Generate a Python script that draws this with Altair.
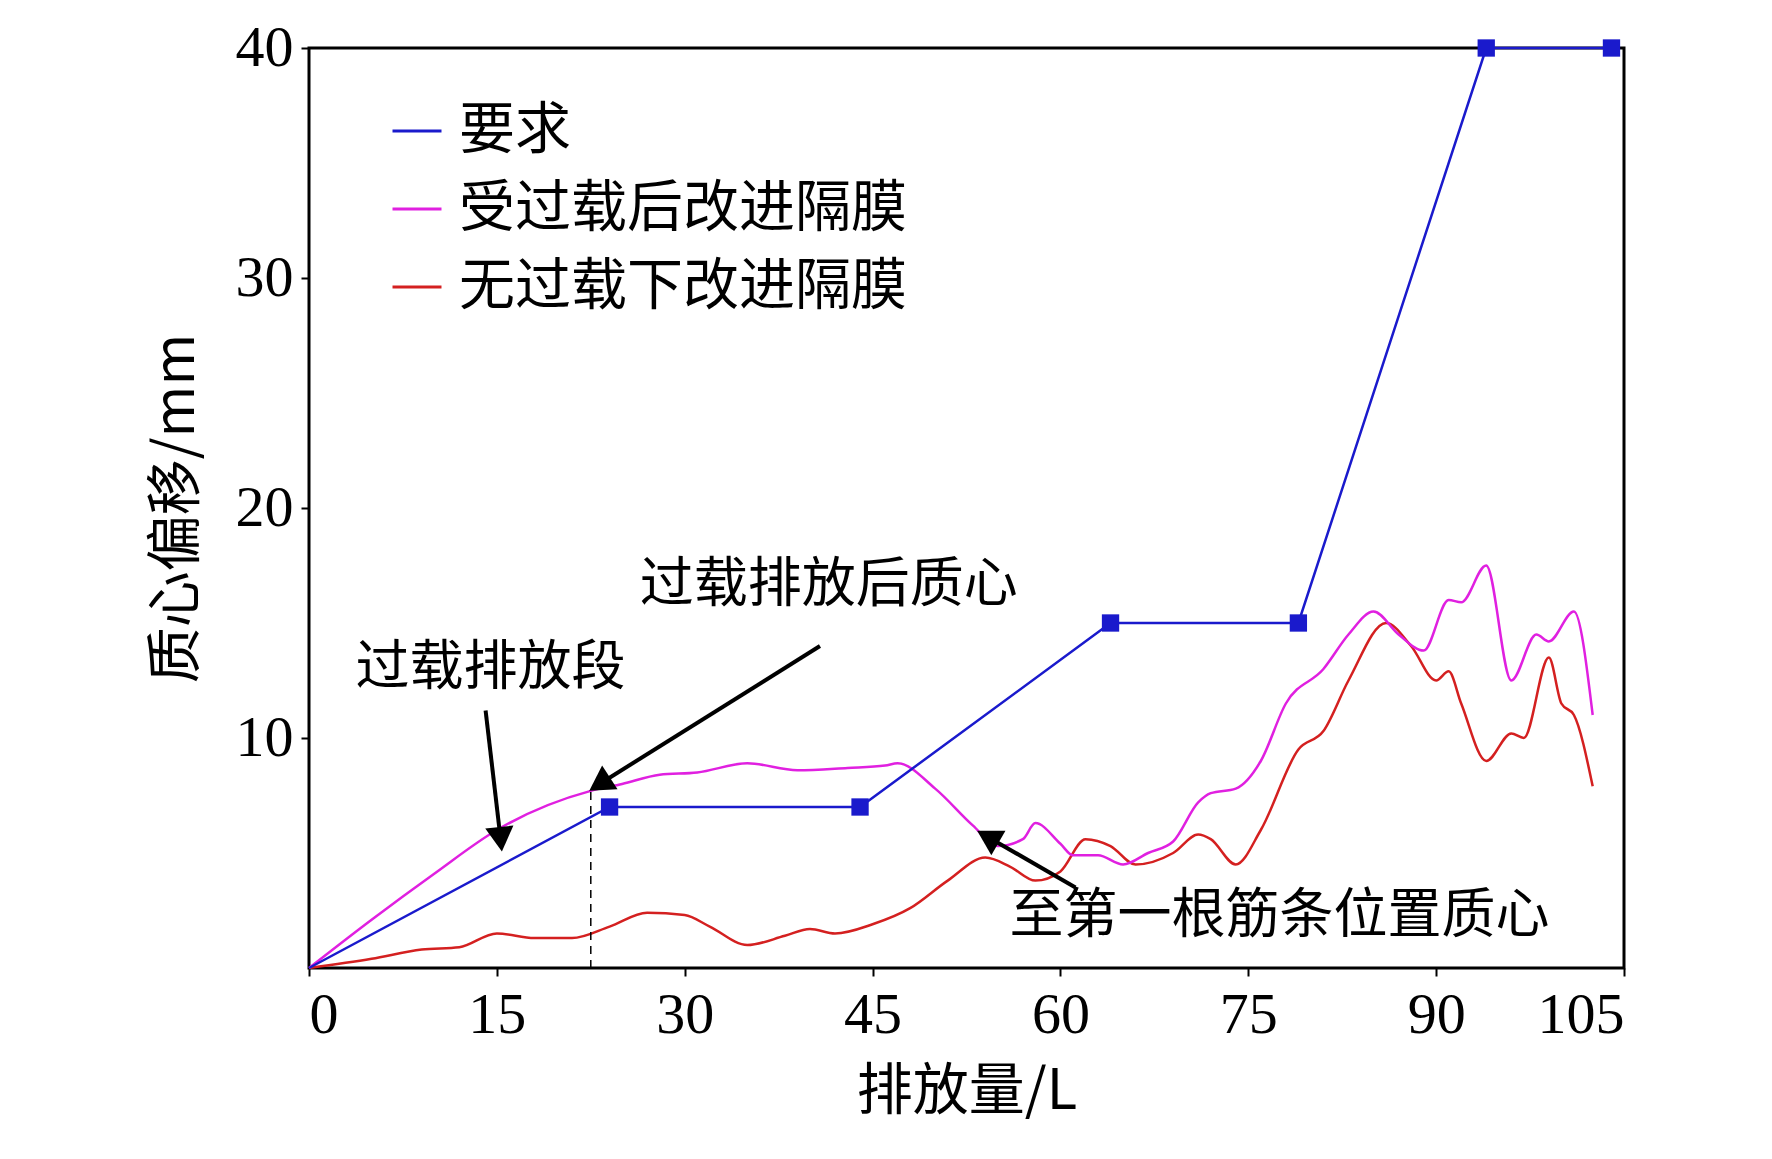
import pandas as pd
import altair as alt

# ---------------- data ----------------
req_x = [0, 24, 44, 64, 79, 94, 104]
req_y = [0, 7, 7, 15, 15, 40, 40]

mag_x = [0, 5, 10, 15, 22.5, 25, 28, 31, 35, 39, 43, 46, 47, 50, 53, 55, 57, 58, 60, 61, 63, 65,
         67, 69, 71, 72, 74, 76, 78, 81, 83, 85, 87, 89, 91, 92, 94, 96, 98, 99, 101, 102.5]
mag_y = [0, 2.1, 4.1, 6.0, 7.7, 8.0, 8.4, 8.5, 8.9, 8.6, 8.7, 8.8, 8.9, 7.8, 6.2, 5.3, 5.6, 6.3, 5.4, 4.9, 4.9, 4.5,
         5.0, 5.5, 7.2, 7.6, 7.8, 9.0, 11.5, 13.0, 14.5, 15.5, 14.5, 13.8, 16.0, 15.9, 17.5, 12.5, 14.5, 14.2, 15.5, 11.0]

red_x = [0, 5, 9, 12, 15, 18, 21, 24, 27, 30, 32, 35, 38, 40, 42, 45, 48, 51, 54, 56, 58, 60, 62, 64,
         66, 69, 71, 72, 74, 76, 79, 81, 83, 86, 88, 90, 91, 92, 94, 96, 97, 99, 100, 101, 102.5]
red_y = [0, 0.4, 0.8, 0.9, 1.5, 1.3, 1.3, 1.8, 2.4, 2.3, 1.8, 1.0, 1.4, 1.7, 1.5, 1.9, 2.6, 3.8, 4.8, 4.4, 3.8, 4.2, 5.6, 5.3,
         4.5, 5.0, 5.8, 5.6, 4.5, 6.0, 9.5, 10.3, 12.5, 15.0, 14.0, 12.5, 12.9, 11.5, 9.0, 10.2, 10.0, 13.5, 11.5, 11.0, 7.9]

names = ['要求', '受过载后改进隔膜', '无过载下改进隔膜']
colors = ['#1a1acc', '#e020e0', '#d42020']

# annotations: label text and arrows (start -> head) in data units
labels = ['过载排放段', '过载排放后质心', '至第一根筋条位置质心']
label_x = [14.5, 41.5, 77.5]
label_y = [13.0, 16.6, 2.2]
arrow_x1 = [14.1, 40.8, 61.2]
arrow_y1 = [11.2, 14.0, 3.5]
arrow_x2 = [15.3, 23.2, 54.2]
arrow_y2 = [5.6, 8.0, 5.7]
arrow_ang = [174, 237, 300]

CJK = 'Noto Sans CJK SC'
SERIF = 'Liberation Serif'

df_req = pd.DataFrame({'x': req_x, 'y': req_y, 's': names[0]})
df_mag = pd.DataFrame({'x': mag_x, 'y': mag_y, 's': names[1]})
df_red = pd.DataFrame({'x': red_x, 'y': red_y, 's': names[2]})
df_lab = pd.DataFrame({'t': labels, 'x': label_x, 'y': label_y})
df_arr = pd.DataFrame({'x': arrow_x1, 'y': arrow_y1, 'x2': arrow_x2, 'y2': arrow_y2, 'a': arrow_ang})
df_dash = pd.DataFrame({'x': [22.5], 'y': [0], 'y2': [7.7]})

xs = alt.Scale(domain=[0, 105], nice=False)
ys = alt.Scale(domain=[0, 40], nice=False)
color = alt.Color('s:N', scale=alt.Scale(domain=names, range=colors), sort=names,
                  legend=alt.Legend(title=None, orient='none', legendX=80, legendY=55,
                                    symbolType='stroke', symbolSize=2400, symbolStrokeWidth=3,
                                    labelFont=CJK, labelFontSize=56, labelLimit=900,
                                    rowPadding=22, labelOffset=14))

X = alt.X('x:Q', scale=xs, title='排放量/L',
          axis=alt.Axis(values=[0, 15, 30, 45, 60, 75, 90, 105], grid=False, labelFont=SERIF,
                        labelFontSize=58, titleFont=CJK, titleFontSize=56, titlePadding=20,
                        tickSize=8, tickWidth=2, domain=False, labelPadding=10, labelColor='black',
                        titleColor='black', titleFontWeight='normal', tickColor='black'))
Y = alt.Y('y:Q', scale=ys, title='质心偏移/mm',
          axis=alt.Axis(values=[10, 20, 30, 40], grid=False, labelFont=SERIF, labelFontSize=58,
                        titleFont=CJK, titleFontSize=56, titlePadding=30, tickSize=8, tickWidth=2,
                        domain=False, labelPadding=8, labelColor='black', titleColor='black',
                        titleFontWeight='normal', tickColor='black'))

curves = alt.Chart(pd.concat([df_red, df_mag])).mark_line(strokeWidth=2.5, interpolate='monotone').encode(
    x=X, y=Y, color=color, detail='s:N')
req_line = alt.Chart(df_req).mark_line(strokeWidth=2.5).encode(x='x:Q', y='y:Q', color=color)
req_pts = alt.Chart(df_req[df_req['x'] > 0]).mark_square(size=300, color=colors[0], opacity=1).encode(x='x:Q', y='y:Q')
dash = alt.Chart(df_dash).mark_rule(strokeDash=[8, 6], color='black', strokeWidth=1.5).encode(
    x='x:Q', y='y:Q', y2='y2:Q')
arr_line = alt.Chart(df_arr).mark_rule(color='black', strokeWidth=4).encode(
    x='x:Q', y='y:Q', x2='x2:Q', y2='y2:Q')
arr_head = alt.Chart(df_arr).mark_point(shape='triangle-up', filled=True, size=800, color='black',
                                        opacity=1).encode(x='x2:Q', y='y2:Q', angle=alt.Angle('a:Q', scale=None))
texts = alt.Chart(df_lab).mark_text(font=CJK, fontSize=54, color='black').encode(
    x='x:Q', y='y:Q', text='t:N')

chart = alt.layer(curves, req_line, req_pts, dash, arr_line, arr_head, texts).properties(
    width=1315, height=920, autosize=alt.AutoSizeParams(type='none'),
    padding={'left': 301, 'top': 40, 'right': 140, 'bottom': 180}
).configure(background='white').configure_view(stroke='black', strokeWidth=3)

chart.save('out.html', embed_options={'renderer': 'svg', 'actions': False})
